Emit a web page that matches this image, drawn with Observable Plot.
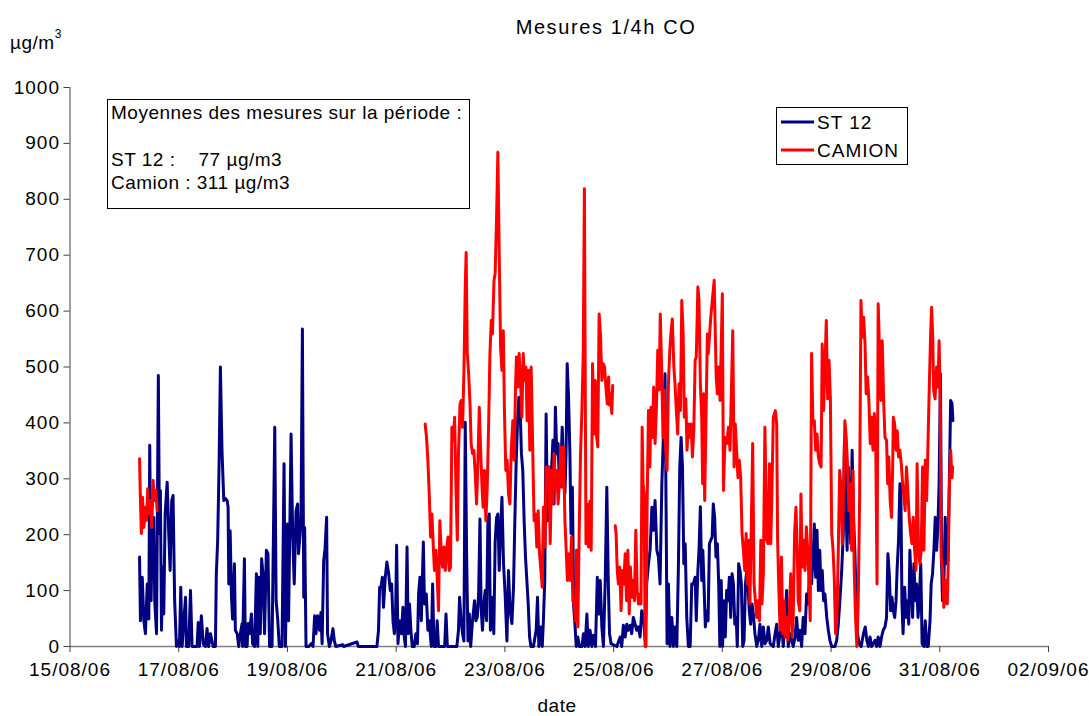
<!DOCTYPE html>
<html>
<head>
<meta charset="utf-8">
<script src="https://cdn.jsdelivr.net/npm/d3@7"></script>
<script src="https://cdn.jsdelivr.net/npm/@observablehq/plot@0.6"></script>
<style>
  html, body { margin: 0; padding: 0; background: #fff; }
  #chart svg { display: block; }
</style>
</head>
<body>
<div id="chart"></div>
<script>
// ---- data (time in hours since 16/08/2006 00:00, values in µg/m3) ----
const titleText = "Mesures 1/4h CO";
const seriesNames = ["ST 12", "CAMION"];
const seriesColors = ["#000080", "#ff0000"];
const yTicks = [0,100,200,300,400,500,600,700,800,900,1000];
const xTickDays = ["2006-08-15","2006-08-17","2006-08-19","2006-08-21","2006-08-23","2006-08-25","2006-08-27","2006-08-29","2006-08-31","2006-09-02"];
const noteLines = ["Moyennes des mesures sur la période :", "", "ST 12 :    77 µg/m3", "Camion : 311 µg/m3"];

const st12Hours = [6.7,7.1,7.9,8.6,9.3,10.1,10.8,11.2,11.8,12.3,13.0,13.4,14.2,14.5,15.0,15.5,15.9,16.4,16.9,17.4,18.0,18.9,19.6,20.2,20.9,21.5,22.2,23.0,23.6,24.3,24.9,25.5,27.0,27.4,28.4,29.2,29.9,32.1,32.6,33.1,34.0,34.8,35.8,36.5,37.2,38.0,39.2,40.2,40.6,41.2,41.8,42.4,43.1,43.9,44.6,45.4,45.8,46.1,46.7,47.3,47.8,48.6,49.0,49.8,50.5,51.2,52.0,52.2,53.0,53.4,54.2,54.6,55.2,56.1,56.6,57.5,58.3,58.9,59.3,60.0,60.6,61.2,61.9,62.7,63.4,64.1,65.2,66.4,67.0,67.7,68.4,69.6,70.5,71.1,72.0,72.5,73.6,74.3,75.0,75.8,76.5,76.9,77.6,78.0,78.6,79.2,79.6,80.2,81.4,82.5,83.3,84.0,84.6,85.3,86.2,86.8,87.3,88.0,88.6,89.3,89.7,90.5,91.2,92.1,92.7,93.4,96.4,96.8,102.7,103.3,111.5,112.2,112.7,113.3,113.9,114.4,115.2,115.9,116.7,117.4,118.0,118.6,119.2,119.7,120.2,120.8,121.5,122.3,123.0,123.4,124.1,124.8,125.3,125.9,126.5,127.1,128.0,128.7,129.4,129.9,130.5,131.1,132.0,132.5,133.3,134.0,134.6,135.5,136.1,136.7,137.6,138.1,138.7,141.4,142.0,142.6,146.8,147.5,148.0,148.7,149.3,149.9,150.5,151.1,151.7,152.3,152.9,153.7,154.6,155.2,155.8,156.4,157.0,157.5,158.1,158.7,159.3,159.9,160.5,161.1,161.6,162.5,163.1,163.7,164.3,164.9,165.5,166.1,166.7,167.4,168.1,168.9,169.6,170.3,171.1,171.8,172.4,173.0,173.6,174.2,174.8,175.3,175.9,176.5,177.1,177.7,178.3,178.9,179.5,180.6,181.8,182.4,183.0,183.9,184.5,185.0,185.6,186.2,186.8,187.4,188.0,188.6,189.2,189.7,190.3,190.9,191.5,192.1,192.7,193.3,193.9,194.5,195.0,195.5,196.1,196.7,197.2,197.8,198.4,199.0,199.5,200.2,200.9,202.0,202.7,203.4,204.2,204.8,205.6,206.4,207.1,208.0,208.8,209.5,210.1,210.8,211.5,212.3,213.0,213.7,214.2,214.9,217.4,218.9,219.6,220.3,221.1,221.8,222.5,223.3,224.0,224.7,225.5,226.2,226.9,227.7,228.4,229.2,229.9,230.6,231.4,232.1,232.9,233.6,234.3,235.1,235.8,236.5,237.3,238.0,238.7,239.2,239.6,240.2,240.9,241.7,242.4,243.1,243.9,244.6,245.2,245.8,246.4,247.0,247.6,248.3,249.0,249.8,250.5,251.2,252.0,252.5,253.2,253.7,254.3,254.9,255.4,255.9,256.5,257.1,257.7,258.3,258.9,259.5,260.0,260.6,261.2,261.8,262.4,262.9,263.5,264.1,264.7,265.3,265.9,266.5,267.1,267.7,268.3,268.9,269.5,270.1,270.6,271.2,271.8,272.4,273.0,273.6,274.2,274.8,275.3,275.9,276.5,277.1,277.7,278.4,279.2,279.9,280.6,281.4,282.1,282.8,283.6,284.3,285.1,286.5,287.3,288.0,288.7,289.5,290.2,290.9,291.7,292.4,293.1,293.9,295.3,296.1,296.8,297.5,298.3,299.0,299.7,300.5,301.2,301.9,302.7,303.4,304.2,304.6,305.2,305.8,306.4,307.0,307.6,308.1,308.7,309.3,310.1,310.8,311.5,312.3,313.7,314.5,315.2,315.9,316.7,317.4,317.9,318.5,319.1,319.6,320.1,320.7,321.3,321.9,322.5,323.1,323.7,324.4,325.3,326.3,327.1,327.8,328.5,329.2,329.9,331.4,332.1,332.8,333.6,334.3,335.0,335.8,336.5,337.1,337.7,338.3,338.9,339.5,340.1,340.7,341.2,341.8,342.4,342.8,343.3,343.8,344.5,345.1,345.7,346.3,346.8,347.4,348.0,348.6,349.2,349.8,350.4,351.0,351.6,352.2,353.0,353.6,354.2,354.9,355.7,356.2,356.8,357.4,358.0,358.6,359.2,359.7,360.3,360.8,361.2,361.8,362.4,363.0,363.6,364.2,364.8,365.4,365.8];
const st12Values = [160,46,124,46,23,112,49,360,82,202,231,82,23,190,485,202,279,29,142,58,237,294,202,136,261,270,82,0,10,0,106,0,88,0,0,100,0,0,43,0,55,5,0,32,0,23,0,0,130,190,321,500,351,261,265,261,249,112,207,88,49,148,29,23,0,23,41,0,157,0,0,41,23,58,5,0,130,0,124,23,157,130,23,172,166,0,0,392,82,49,0,0,327,0,219,46,380,202,112,243,255,166,202,231,568,88,213,0,0,5,0,55,23,55,29,61,5,154,175,231,23,0,10,32,10,0,3,0,8,0,0,29,106,106,124,70,124,151,130,100,112,46,23,41,181,5,46,23,70,23,0,178,23,76,29,0,0,23,5,94,124,46,187,76,94,29,46,0,112,0,0,46,0,0,58,0,0,29,88,46,23,10,401,166,10,58,0,46,82,46,52,94,228,70,29,76,100,46,228,237,29,88,23,187,230,237,136,207,267,148,94,10,136,64,41,106,225,333,404,446,416,345,315,225,160,118,76,17,0,0,29,88,0,35,0,46,118,416,225,321,255,315,369,255,428,345,363,285,315,392,315,273,345,506,446,345,202,285,70,35,0,17,0,0,23,0,58,0,29,0,20,0,124,58,118,35,0,118,285,106,23,5,0,17,0,38,17,40,29,38,23,52,40,29,35,17,64,52,11,112,148,172,249,208,261,172,160,112,291,380,488,231,5,112,0,52,0,35,0,142,321,374,321,148,184,52,0,0,112,112,124,46,136,172,250,118,172,112,35,64,46,184,190,196,255,231,160,184,112,0,118,0,82,17,100,82,124,52,130,112,40,52,0,148,136,112,0,11,112,136,112,64,40,76,58,23,0,11,40,0,35,5,11,35,5,0,23,40,0,23,40,0,52,100,0,23,0,17,52,11,29,0,52,23,94,76,154,112,172,219,124,208,100,172,100,136,82,94,52,29,11,0,0,11,40,82,136,202,363,261,172,321,255,184,351,231,172,82,23,5,0,23,35,11,0,17,0,11,0,17,0,17,29,35,52,166,130,64,88,64,52,82,142,190,291,286,76,23,106,52,82,40,172,112,52,148,82,112,52,88,148,5,0,46,0,0,46,112,130,172,231,172,219,291,488,148,82,112,231,148,154,291,440,435,404];

const camionHours = [6.7,7.1,7.5,8.0,8.6,9.2,9.8,10.3,10.9,11.5,12.1,12.7,13.3,13.9,14.5,14.6,132.8,133.4,134.0,134.6,135.2,135.8,136.4,136.9,137.6,138.1,138.7,139.3,139.9,140.5,141.1,141.7,142.2,142.9,143.4,144.0,144.6,145.2,145.8,146.4,147.0,147.5,148.2,148.7,149.3,149.9,150.5,150.9,151.4,152.0,152.6,153.1,153.7,154.3,154.9,155.5,156.1,156.7,157.2,157.9,158.4,159.0,159.6,160.2,160.8,161.4,162.0,162.5,163.2,163.7,164.3,164.9,165.5,166.1,166.7,167.3,167.8,168.4,169.0,169.6,170.2,170.8,171.5,172.1,172.7,173.1,173.7,174.3,174.9,175.5,176.1,176.6,177.3,177.8,178.4,179.0,179.6,180.2,180.6,180.9,181.5,182.1,182.7,183.3,183.9,184.5,185.0,185.7,186.2,186.8,187.4,188.0,188.6,189.2,189.7,190.3,190.9,191.5,192.1,192.7,193.3,193.9,194.5,195.0,195.6,196.3,196.8,197.4,198.0,198.6,199.2,199.6,200.2,200.8,201.4,202.0,202.6,203.1,203.8,204.3,204.9,205.5,206.1,206.7,207.3,207.9,208.4,209.0,209.6,210.2,210.8,211.4,212.0,212.6,213.2,213.8,214.1,214.6,215.2,215.6,216.2,216.7,217.1,217.6,218.1,218.7,219.3,219.9,220.5,221.1,221.7,222.3,222.9,223.4,224.0,224.6,225.2,225.8,226.4,227.0,227.6,228.1,228.6,229.0,229.5,229.9,230.3,230.8,231.4,232.0,232.5,233.1,233.7,234.3,234.9,235.5,236.1,236.6,237.3,237.8,238.4,239.0,239.6,240.2,240.8,241.3,241.9,242.6,243.1,243.7,244.3,244.9,245.5,246.1,246.7,247.2,247.9,248.4,249.0,249.6,250.2,250.8,251.4,252.0,252.5,253.2,253.7,254.3,254.9,255.3,255.8,256.2,257.4,257.8,258.9,260.4,261.3,261.8,262.4,263.0,264.0,264.5,265.2,265.9,266.7,267.4,268.6,269.2,269.7,270.3,270.9,271.5,272.1,272.7,273.3,273.9,274.5,275.0,275.7,276.2,277.4,278.0,278.6,279.2,279.8,280.4,281.0,281.5,282.1,282.8,283.6,284.2,284.8,285.4,285.9,286.5,287.4,288.0,288.4,288.9,289.5,290.1,290.7,291.3,291.8,292.4,293.0,293.6,294.2,294.8,295.3,295.9,296.5,297.1,297.5,298.2,298.7,299.3,299.9,300.5,301.1,301.7,302.3,302.8,303.4,304.0,304.6,305.2,305.8,306.4,307.0,307.6,308.1,308.7,309.3,309.9,310.5,311.1,311.7,312.3,312.9,313.4,314.0,314.6,315.2,315.8,316.4,317.0,317.6,318.1,318.7,319.3,319.9,320.5,321.1,321.7,322.2,322.8,323.4,324.0,324.6,325.2,325.8,326.4,327.0,327.5,328.1,328.7,329.3,329.9,330.5,331.1,331.7,332.3,332.8,333.4,334.0,334.6,335.2,335.8,336.5,337.0,337.5,338.1,338.7,339.2,339.5,340.1,340.7,341.2,341.8,342.4,343.0,343.6,344.2,344.7,345.3,345.9,346.5,347.1,347.7,348.3,348.9,349.5,350.0,350.6,351.2,351.8,352.4,353.0,353.6,354.2,354.8,355.4,356.0,356.4,356.9,357.3,357.9,358.6,359.2,359.7,360.2,360.6,361.3,361.8,362.3,362.7,363.3,363.7,364.2,364.8,365.4,365.7];
const camionValues = [336,261,202,267,213,249,226,282,237,261,213,297,261,279,243,null,398,374,333,273,196,237,178,136,172,124,64,225,166,142,178,136,172,196,136,142,392,369,410,285,190,345,434,440,392,488,643,705,524,488,434,363,345,351,309,255,333,428,363,285,249,315,225,285,392,524,583,559,655,667,762,884,702,535,494,565,422,315,333,273,255,350,404,333,464,518,464,524,476,410,524,476,500,404,494,351,500,374,285,225,237,178,243,166,136,106,249,178,321,285,321,184,315,255,345,285,315,255,297,357,285,357,225,178,118,166,118,196,82,76,46,172,35,202,345,422,524,819,184,255,178,260,172,506,380,476,380,357,595,559,476,506,500,464,434,482,432,452,417,467,null,216,202,136,112,142,64,136,112,166,82,172,58,142,88,118,82,208,100,76,94,76,392,291,273,0,0,255,422,321,428,374,464,363,428,530,459,595,482,374,459,351,315,470,530,559,586,500,470,422,380,470,422,619,559,410,443,351,398,374,398,339,386,512,518,643,619,470,410,291,452,261,559,524,589,655,482,452,500,440,631,279,374,363,392,351,565,321,398,351,302,333,302,202,172,136,202,112,190,76,363,112,82,52,82,46,190,76,130,392,190,184,327,184,279,410,422,398,190,112,29,160,23,82,17,52,11,64,130,17,52,202,249,172,82,64,273,142,190,136,214,172,112,46,524,398,404,351,380,339,327,321,541,422,500,583,443,512,443,202,172,124,23,52,172,315,285,184,291,404,374,321,243,291,172,315,142,52,0,82,261,619,553,589,541,452,482,440,363,410,351,417,374,112,613,530,440,547,443,374,369,291,339,261,231,321,410,398,351,386,339,351,327,291,267,243,321,279,231,202,184,231,172,136,327,172,148,172,321,172,333,261,363,470,565,607,553,459,443,500,464,547,440,160,136,70,94,118,76,142,279,351,302,321];

// ---- build tables ----
const t0 = Date.UTC(2006, 7, 16);
const toDate = h => new Date(t0 + h * 3600e3);
const st12 = st12Hours.map((h, i) => ({date: toDate(h), value: st12Values[i]}));
const camion = camionHours.map((h, i) => ({date: toDate(h), value: camionValues[i]}));
const xTicks = xTickDays.map(d => new Date(d + "T00:00:00Z"));
const fmt = d3.utcFormat("%d/%m/%y");

const W = 1089, H = 716;
const FONT = "'Liberation Sans', Arial, Helvetica, sans-serif";

const plot = Plot.plot({
  width: W,
  height: H,
  marginLeft: 69.5,
  marginRight: 41,
  marginTop: 87,
  marginBottom: 70,
  style: {fontFamily: FONT, fontSize: "19px", letterSpacing: "1px", color: "#000", background: "#fff", overflow: "visible"},
  x: {type: "utc", domain: [xTicks[0], xTicks[xTicks.length - 1]], axis: null},
  y: {domain: [0, 1000], axis: null},
  marks: [
    Plot.ruleY([0], {stroke: "#808080", strokeWidth: 1.3}),
    Plot.ruleX([xTicks[0]], {stroke: "#404040", strokeWidth: 1}),
    Plot.axisY({ticks: yTicks, tickSize: 6, tickPadding: 4, tickFormat: d => String(d), label: null, fontSize: 19, stroke: "#404040"}),
    Plot.axisX({ticks: xTicks, tickSize: 6, tickPadding: 10, tickFormat: fmt, label: null, fontSize: 19, stroke: "#404040"}),
    Plot.line(st12, {x: "date", y: "value", stroke: seriesColors[0], strokeWidth: 3, strokeLinejoin: "round"}),
    Plot.line(camion, {x: "date", y: "value", stroke: seriesColors[1], strokeWidth: 3, strokeLinejoin: "round"})
  ]
});

const svg = d3.select(plot);
const addText = (g, x, y, s, size, anchor, ls) => g.append("text")
  .attr("x", x).attr("y", y).attr("text-anchor", anchor)
  .attr("fill", "#000")
  .style("font-family", FONT).style("font-size", size + "px")
  .style("letter-spacing", ls + "px").style("white-space", "pre")
  .text(s);

// title
addText(svg, 606, 34, titleText, 20, "middle", 1.6);

// unit label µg/m³
const unit = svg.append("text").attr("x", 10).attr("y", 49).attr("text-anchor", "start").attr("fill", "#000")
  .style("font-family", FONT).style("font-size", "19px").style("letter-spacing", "0.5px");
unit.append("tspan").text("µg/m");
unit.append("tspan").attr("dy", -11).style("font-size", "12px").text("3");

// x label
addText(svg, 557, 712, "date", 19, "middle", 0.5);

// note box
const note = svg.append("g");
note.append("rect").attr("x", 107.5).attr("y", 99.5).attr("width", 362).attr("height", 109)
  .attr("fill", "#fff").attr("stroke", "#000").attr("stroke-width", 1);
noteLines.forEach((s, i) => {
  if (!s) return;
  addText(note, 111, 119 + i * 23.3, s, 19, "start", 0.5);
});

// legend
const leg = svg.append("g");
leg.append("rect").attr("x", 776.5).attr("y", 107.5).attr("width", 131).attr("height", 57)
  .attr("fill", "#fff").attr("stroke", "#000").attr("stroke-width", 1);
seriesNames.forEach((name, i) => {
  const y = 122 + i * 28;
  leg.append("line").attr("x1", 781).attr("x2", 814).attr("y1", y).attr("y2", y)
    .attr("stroke", seriesColors[i]).attr("stroke-width", 3);
  addText(leg, 817, y + 7, name, 19, "start", 1);
});

document.getElementById("chart").appendChild(plot);
</script>
</body>
</html>
